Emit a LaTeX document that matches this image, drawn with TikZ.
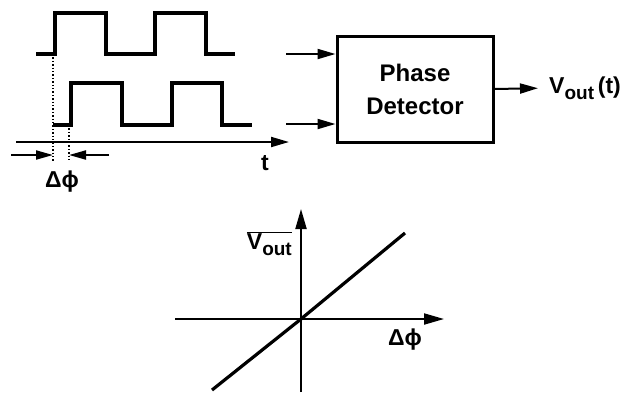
\documentclass[tikz,border=0pt]{standalone}
\usepackage{fontspec}
\setmainfont{Liberation Sans}
\usetikzlibrary{arrows.meta,positioning,calc}

\begin{document}
\begin{tikzpicture}[x=1pt, y=-1pt,
    wave/.style={line width=3.2pt, line join=miter},
    sig/.style={line width=2pt, -{Triangle[length=18pt,width=10pt]}},
    axis/.style={line width=2pt, -{Triangle[length=20pt,width=11pt]}},
    lbl/.style={font=\fontsize{23}{26}\selectfont\bfseries, inner sep=0pt},
    pdbox/.style={draw, line width=3pt, minimum width=156pt, minimum height=106pt,
      align=center, font=\fontsize{24}{33}\selectfont\bfseries}
  ]
  \useasboundingbox (0,0) rectangle (626,392);

  %% --- input waveforms ---
  \draw[wave] (36,54) -- (55,54) -- (55,13) -- (106,13) -- (106,54) -- (155,54)
    -- (155,13) -- (206,13) -- (206,54) -- (235,54);
  \draw[wave] (53,125) -- (71,125) -- (71,83) -- (122,83) -- (122,125) -- (172,125)
    -- (172,83) -- (222,83) -- (222,125) -- (252,125);

  %% --- time axis and phase offset ---
  \coordinate (t0) at (16,142);
  \coordinate (t1) at (289,142);
  \draw[sig] (t0) -- (t1);
  \node[lbl, anchor=north] (tlbl) at (265,155) {t};

  \coordinate (e1) at (53,54);
  \coordinate (e2) at (69,125);
  \draw[dotted, line width=1.4pt] (e1) -- (e1 |- 0,162);
  \draw[dotted, line width=1.4pt] (e2) -- (e2 |- 0,162);
  \coordinate (d1) at (11,155);
  \coordinate (d2) at (109,155);
  \draw[sig, -{Triangle[length=17pt,width=9pt]}] (d1) -- (e1 |- d1);
  \draw[sig, -{Triangle[length=17pt,width=9pt]}] (d2) -- (e2 |- d2);
  \node[lbl, anchor=north] (dphi) at (62,171) {Δϕ};

  %% --- phase detector ---
  \node[pdbox] (pd) at (415,89) {Phase\\Detector};
  \coordinate (in1) at (286,54);
  \coordinate (in2) at (286,124);
  \draw[sig] (in1) -- (in1 -| pd.west);
  \draw[sig] (in2) -- (in2 -| pd.west);
  \node[lbl, anchor=west] (vout) at (549,88) {V\raisebox{-6pt}{\fontsize{19}{20}\selectfont out}\,(t)};
  \draw[sig, shorten >=11pt] (pd.east) -- (vout.west);

  %% --- characteristic ---
  \coordinate (o) at (301,319);
  \coordinate (yb) at (301,392);
  \coordinate (yt) at (301,209);
  \coordinate (xl) at (175,319);
  \coordinate (xr) at (444,319);
  \draw[axis] (yb) -- (yt);
  \draw[axis] (xl) -- (xr);
  \draw[line width=3.2pt] (212,390) -- (o) -- (405,233);
  \node[lbl, anchor=east] (vavg) at (292,244)
    {$\overline{\hbox{V\raisebox{-6pt}{\fontsize{19}{20}\selectfont out}}}$};
  \node[lbl] (xlbl) at (405,340) {Δϕ};
\end{tikzpicture}
\end{document}
